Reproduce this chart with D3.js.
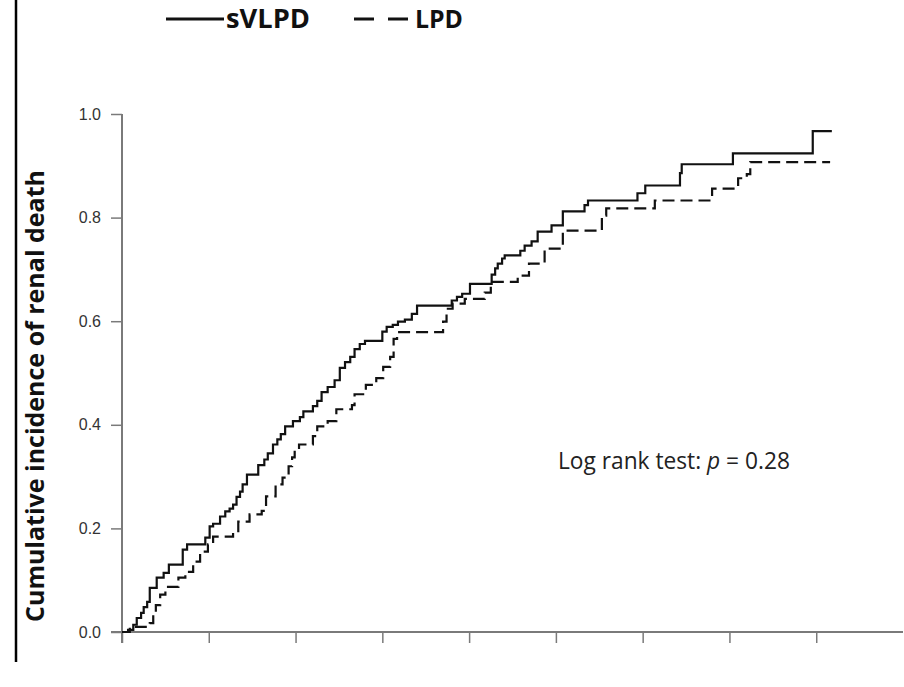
<!DOCTYPE html>
<html>
<head>
<meta charset="utf-8">
<script src="https://cdn.jsdelivr.net/npm/d3@7"></script>
<style>
  html, body { margin: 0; padding: 0; background: #fff; }
  svg { display: block; }
</style>
</head>
<body>
<svg id="chart" width="904" height="687"></svg>
<script>
// ---- data ----
const seriesNames = ["sVLPD", "LPD"];
const xTicks = [0, 1, 2, 3, 4, 5, 6, 7, 8];
const yTicks = [0.0, 0.2, 0.4, 0.6, 0.8, 1.0];
const annotation = { pre: "Log rank test: ", p: "p", post: " = 0.28" };
const yTitle = "Cumulative incidence of renal death";

// sVLPD step times (axis units) and cumulative incidence after each step
const svlpdTime = [0.07,0.13,0.17,0.22,0.25,0.29,0.32,0.40,0.48,0.54,0.70,0.75,0.96,1.01,1.05,1.13,1.19,1.24,1.28,1.32,1.36,1.39,1.44,1.57,1.64,1.68,1.74,1.79,1.83,1.88,1.97,2.05,2.09,2.20,2.25,2.30,2.37,2.45,2.51,2.57,2.63,2.68,2.74,2.80,3.00,3.05,3.12,3.18,3.26,3.34,3.40,3.80,3.86,3.92,4.01,4.26,4.30,4.33,4.38,4.41,4.59,4.64,4.72,4.79,4.95,5.08,5.33,5.37,5.94,6.03,6.43,6.45,7.04,7.96];
const svlpdValue = [0.004,0.014,0.027,0.037,0.048,0.058,0.085,0.105,0.114,0.130,0.159,0.169,0.182,0.204,0.209,0.223,0.233,0.238,0.246,0.261,0.271,0.285,0.304,0.322,0.333,0.345,0.362,0.372,0.382,0.397,0.407,0.415,0.426,0.436,0.446,0.463,0.473,0.486,0.510,0.521,0.531,0.546,0.556,0.562,0.580,0.589,0.593,0.599,0.603,0.614,0.630,0.640,0.647,0.653,0.672,0.690,0.702,0.711,0.721,0.727,0.736,0.746,0.754,0.773,0.785,0.812,0.824,0.833,0.847,0.862,0.886,0.903,0.924,0.967];
const svlpdEnd = 8.18;

// LPD step times and cumulative incidence
const lpdTime = [0.09,0.32,0.36,0.39,0.44,0.50,0.65,0.73,0.82,0.90,0.99,1.05,1.28,1.34,1.47,1.61,1.66,1.77,1.85,1.92,1.96,1.99,2.04,2.20,2.25,2.37,2.47,2.65,2.68,2.81,2.93,3.01,3.09,3.13,3.17,3.70,3.74,3.81,3.95,4.18,4.25,4.56,4.69,4.87,5.08,5.53,5.58,6.14,6.80,7.10,7.20,7.24];
const lpdValue = [0.010,0.017,0.033,0.052,0.072,0.087,0.105,0.116,0.136,0.155,0.169,0.184,0.192,0.213,0.227,0.234,0.262,0.285,0.298,0.320,0.337,0.353,0.362,0.378,0.397,0.407,0.430,0.438,0.459,0.477,0.490,0.512,0.531,0.566,0.579,0.599,0.624,0.634,0.643,0.655,0.676,0.688,0.711,0.740,0.775,0.804,0.818,0.833,0.856,0.876,0.884,0.907];
const lpdEnd = 8.16;

// ---- drawing ----
const svg = d3.select("#chart");
const x = d3.scaleLinear().domain([0, 9]).range([122, 903]);
const y = d3.scaleLinear().domain([0, 1]).range([632, 114]);
const axisColor = "#7a7a7a";

// left border line
svg.append("line").attr("x1", 16).attr("x2", 16).attr("y1", 0).attr("y2", 662)
  .attr("stroke", "#000").attr("stroke-width", 2.5);

// x axis
const gx = svg.append("g").attr("transform", `translate(0,${y(0)})`)
  .call(d3.axisBottom(x).tickValues(xTicks).tickSize(11).tickFormat(""));
gx.select(".domain").remove();
gx.selectAll(".tick line").attr("stroke", axisColor).attr("stroke-width", 1.5);
svg.append("line").attr("x1", 111).attr("x2", 903).attr("y1", y(0)).attr("y2", y(0))
  .attr("stroke", axisColor).attr("stroke-width", 2);

// y axis
const gy = svg.append("g").attr("transform", `translate(${x(0)},0)`)
  .call(d3.axisLeft(y).tickValues(yTicks).tickSize(11).tickPadding(10).tickFormat(d3.format(".1f")));
gy.attr("font-size", null).attr("font-family", null);
gy.select(".domain").remove();
gy.selectAll(".tick line").attr("stroke", axisColor).attr("stroke-width", 1.5);
gy.selectAll(".tick text")
  .style("font-family", "'Liberation Sans', Arial, sans-serif")
  .style("font-size", "16px").attr("fill", "#333");
svg.append("line").attr("x1", x(0)).attr("x2", x(0)).attr("y1", y(1)).attr("y2", y(0) + 11)
  .attr("stroke", axisColor).attr("stroke-width", 2);

// curves
function stepData(times, values, end) {
  const pts = [[0, 0]];
  times.forEach((t, i) => pts.push([t, values[i]]));
  pts.push([end, values[values.length - 1]]);
  return pts;
}
const line = d3.line().x(d => x(d[0])).y(d => y(d[1])).curve(d3.curveStepAfter);
svg.append("path").datum(stepData(lpdTime, lpdValue, lpdEnd)).attr("d", line)
  .attr("fill", "none").attr("stroke", "#111").attr("stroke-width", 2.2)
  .attr("stroke-dasharray", "12,6");
svg.append("path").datum(stepData(svlpdTime, svlpdValue, svlpdEnd)).attr("d", line)
  .attr("fill", "none").attr("stroke", "#111").attr("stroke-width", 2.2);

// helper to fit a text to a width
function fitWidth(sel, target) {
  const w = sel.node().getComputedTextLength();
  const fs = parseFloat(sel.attr("font-size"));
  sel.attr("font-size", fs * target / w);
}
const boldFont = "Open Sans, Noto Sans, sans-serif";

// legend
svg.append("line").attr("x1", 166).attr("x2", 224).attr("y1", 19).attr("y2", 19)
  .attr("stroke", "#111").attr("stroke-width", 3);
const t1 = svg.append("text").attr("x", 226).attr("y", 28).text(seriesNames[0])
  .attr("font-family", boldFont).attr("font-weight", "bold").attr("font-size", 24).attr("fill", "#111");
fitWidth(t1, 84);
svg.append("line").attr("x1", 354).attr("x2", 412).attr("y1", 19).attr("y2", 19)
  .attr("stroke", "#111").attr("stroke-width", 3).attr("stroke-dasharray", "20,14");
const t2 = svg.append("text").attr("x", 415).attr("y", 28).text(seriesNames[1])
  .attr("font-family", boldFont).attr("font-weight", "bold").attr("font-size", 24).attr("fill", "#111");
fitWidth(t2, 48);

// y title
const yt = svg.append("text").attr("transform", `translate(44,${396}) rotate(-90)`)
  .attr("text-anchor", "middle").text(yTitle)
  .attr("font-family", boldFont).attr("font-weight", "bold").attr("font-size", 24).attr("fill", "#111");
fitWidth(yt, 452);

// annotation
const an = svg.append("text").attr("x", 558).attr("y", 469)
  .attr("font-family", "Open Sans, sans-serif").attr("font-size", 20).attr("fill", "#222");
an.append("tspan").text(annotation.pre);
an.append("tspan").attr("font-style", "italic").text(annotation.p);
an.append("tspan").text(annotation.post);
fitWidth(an, 232);
</script>
</body>
</html>
